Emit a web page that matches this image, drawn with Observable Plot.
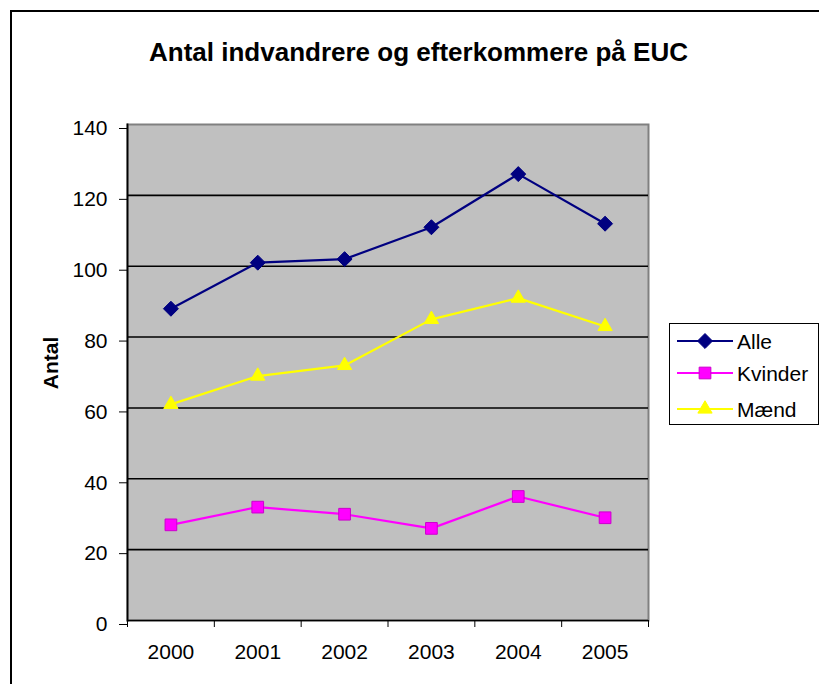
<!DOCTYPE html>
<html><head><meta charset="utf-8">
<script src="https://cdn.jsdelivr.net/npm/d3@7"></script>
<script src="https://cdn.jsdelivr.net/npm/@observablehq/plot@0.6"></script>
<style>
body{margin:0;background:#fff;font-family:"Liberation Sans",Arial,sans-serif;overflow:hidden}
#wrap{position:relative;width:819px;height:684px;overflow:hidden;background:#fff}
#border{position:absolute;left:10px;top:10px;width:900px;height:800px;border:2px solid #000;box-sizing:border-box}
#chart{position:absolute;left:0;top:0;line-height:0}
#title{position:absolute;left:0;width:837px;top:37px;text-align:center;font-weight:bold;font-size:26px;color:#000;white-space:nowrap}
#ylabel{position:absolute;left:51px;top:363px;transform:translate(-50%,-50%) rotate(-90deg);font-weight:bold;font-size:21px;white-space:nowrap}
#legend{position:absolute;left:669px;top:323px;width:150px;height:102px;border:1px solid #000;background:#fff;box-sizing:border-box}
</style></head><body>
<div id="wrap"><div id="border"></div><div id="chart"></div><div id="title"></div><div id="ylabel"></div><div id="legend"></div></div>
<script>
const titleText = "Antal indvandrere og efterkommere på EUC";
const yLabel = "Antal";
const years = [2000, 2001, 2002, 2003, 2004, 2005];
const alle = [88, 101, 102, 111, 126, 112];
const kvinder = [27, 32, 30, 26, 35, 29];
const maend = [61, 69, 72, 85, 91, 83];
const seriesNames = ["Alle", "Kvinder", "Mænd"];
const seriesColors = ["#000080", "#FF00FF", "#FFFF00"];
const yTicks = [0, 20, 40, 60, 80, 100, 120, 140];

const diamond = {draw(ctx, size){const h=Math.sqrt(size/2);ctx.moveTo(0,-h);ctx.lineTo(h,0);ctx.lineTo(0,h);ctx.lineTo(-h,0);ctx.closePath();}};
const seriesValues = [alle, kvinder, maend];
const symbols = [diamond, "square", "triangle"];
const radii = [5.98, 6.6, 5.3];
const markerStroke = ["#000080", "#CC00CC", "#FFFF00"];

const data = [];
seriesNames.forEach((s, i) => seriesValues[i].forEach((v, j) => data.push({series: s, year: years[j], value: v})));
const boundaries = years.map(y => y - 0.5).concat([years[years.length-1] + 0.5]);

document.getElementById("title").textContent = titleText;
document.getElementById("ylabel").textContent = yLabel;

const marks = [
  Plot.frame({fill: "#C0C0C0", stroke: "#808080", strokeWidth: 2}),
  Plot.ruleY(yTicks.slice(1, -1), {stroke: "#000", strokeWidth: 1.6}),
  Plot.ruleY([0], {stroke: "#000", strokeWidth: 1.6}),
  Plot.frame({anchor: "left", stroke: "#000", strokeWidth: 1.8}),
  Plot.axisY({ticks: yTicks, tickSize: 8, tickPadding: 12, label: null, fontSize: 21, dy: 4, tickFormat: d => String(d)}),
  Plot.axisX({ticks: years, tickSize: 0, tickPadding: 24, label: null, fontSize: 21, tickFormat: d => String(d)}),
  Plot.axisX({ticks: boundaries, tickSize: 7, label: null, tickFormat: () => ""})
];
seriesNames.forEach((s, i) => {
  const d = data.filter(r => r.series === s);
  marks.push(Plot.lineY(d, {x: "year", y: "value", stroke: seriesColors[i], strokeWidth: 2.2}));
});
seriesNames.forEach((s, i) => {
  const d = data.filter(r => r.series === s);
  marks.push(Plot.dot(d, {x: "year", y: "value", symbol: () => symbols[i], r: radii[i], fill: seriesColors[i], stroke: markerStroke[i], strokeWidth: 1}));
});

const chart = Plot.plot({
  width: 819, height: 684,
  marginLeft: 127, marginRight: 171, marginTop: 124, marginBottom: 64,
  x: {domain: [boundaries[0], boundaries[boundaries.length-1]]},
  y: {domain: [0, 140]},
  symbol: {type: "identity"},
  style: {fontFamily: "'Liberation Sans', Arial, sans-serif", fontSize: "21px", background: "transparent", color: "#000", overflow: "visible"},
  marks
});
chart.style.display = "block";
document.getElementById("chart").appendChild(chart);

// legend
const lg = d3.select("#legend").append("svg").attr("width", 148).attr("height", 100).style("display","block");
const rowY = [17, 49, 85];
seriesNames.forEach((s, i) => {
  const g = lg.append("g").attr("transform", `translate(0,${rowY[i]})`);
  g.append("line").attr("x1", 7).attr("x2", 63).attr("y1", 0).attr("y2", 0).attr("stroke", seriesColors[i]).attr("stroke-width", 2.2);
  const sym = typeof symbols[i] === "string" ? (symbols[i] === "square" ? d3.symbolSquare : d3.symbolTriangle) : symbols[i];
  g.append("path").attr("transform", "translate(35,0)").attr("d", d3.symbol(sym, Math.PI * radii[i] * radii[i])()).attr("fill", seriesColors[i]).attr("stroke", markerStroke[i]);
  g.append("text").attr("x", 67).attr("y", 0).attr("dy", "0.36em").attr("font-size", 21).attr("font-family", "'Liberation Sans', Arial, sans-serif").attr("fill", "#000").text(s);
});
</script>
</body></html>
